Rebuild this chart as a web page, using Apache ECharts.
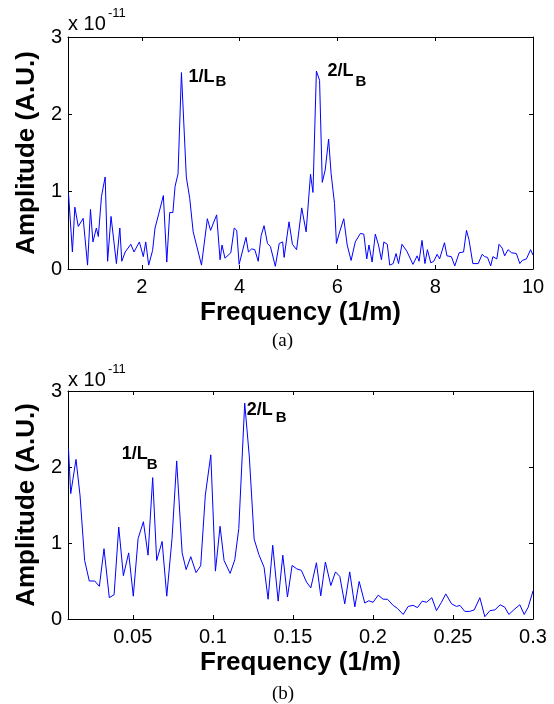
<!DOCTYPE html>
<html><head><meta charset="utf-8">
<script src="https://cdn.jsdelivr.net/npm/echarts@6/dist/echarts.min.js"></script>
<style>html,body{margin:0;padding:0;background:#fff}#c{width:554px;height:704px}</style>
</head><body><div id="c"></div>
<script>
// Panel (a): frequency (1/m) and amplitude (x 1e-11 A.U.)
const topFreq = [0.50,0.58,0.63,0.70,0.80,0.89,0.95,1.00,1.07,1.11,1.175,1.25,1.30,1.37,1.48,1.55,1.59,1.66,1.775,1.84,1.95,2.03,2.08,2.14,2.22,2.27,2.34,2.44,2.51,2.57,2.635,2.68,2.74,2.81,2.91,2.98,3.05,3.22,3.34,3.405,3.53,3.60,3.64,3.70,3.82,3.89,3.94,3.99,4.13,4.18,4.245,4.31,4.38,4.44,4.50,4.57,4.63,4.73,4.81,4.88,4.91,5.01,5.08,5.165,5.27,5.36,5.45,5.50,5.57,5.635,5.69,5.75,5.82,5.87,5.94,5.98,6.045,6.13,6.20,6.28,6.365,6.47,6.54,6.60,6.645,6.71,6.775,6.84,6.90,6.95,7.02,7.07,7.14,7.20,7.25,7.32,7.42,7.545,7.63,7.67,7.73,7.79,7.84,7.91,7.97,8.04,8.09,8.19,8.24,8.33,8.40,8.49,8.58,8.64,8.69,8.77,8.88,8.96,9.01,9.07,9.135,9.18,9.26,9.305,9.37,9.42,9.49,9.56,9.66,9.73,9.78,9.865,9.95,10.0];
const topAmp = [0.98,0.22,0.80,0.55,0.655,0.05,0.77,0.35,0.53,0.42,0.94,1.19,0.10,0.68,0.07,0.53,0.10,0.22,0.32,0.22,0.35,0.16,0.35,0.05,0.24,0.53,0.70,0.95,0.09,0.73,0.73,1.07,1.23,2.54,1.19,0.91,0.48,0.05,0.65,0.50,0.70,0.12,0.31,0.14,0.21,0.53,0.50,0.06,0.41,0.22,0.26,0.25,0.10,0.43,0.56,0.33,0.29,0.035,0.33,0.35,0.15,0.61,0.32,0.25,0.79,0.48,1.225,0.99,2.56,2.44,1.12,1.28,1.68,1.24,0.85,0.33,0.48,0.65,0.31,0.11,0.35,0.46,0.45,0.13,0.31,0.09,0.45,0.31,0.12,0.35,0.32,0.05,0.07,0.20,0.07,0.32,0.23,0.06,0.17,0.10,0.37,0.07,0.25,0.08,0.10,0.19,0.13,0.34,0.17,0.16,0.04,0.21,0.22,0.50,0.38,0.07,0.07,0.19,0.16,0.15,0.04,0.16,0.13,0.32,0.27,0.17,0.25,0.21,0.20,0.07,0.11,0.13,0.25,0.18];
// Panel (b)
const bottomFreq = [0.0098,0.0112,0.0145,0.0170,0.0199,0.0228,0.0262,0.0291,0.0320,0.0353,0.0383,0.0412,0.0441,0.0474,0.0503,0.0533,0.0566,0.0595,0.0624,0.0649,0.0683,0.0712,0.0745,0.0774,0.0808,0.0833,0.0862,0.0895,0.0924,0.0953,0.0987,0.1016,0.1045,0.1070,0.1108,0.1137,0.1162,0.1199,0.1228,0.1258,0.1287,0.1320,0.1345,0.1374,0.1408,0.1437,0.1466,0.1495,0.1524,0.1553,0.1585,0.1612,0.1647,0.1674,0.1703,0.1737,0.1766,0.1793,0.1824,0.1855,0.1887,0.1914,0.1949,0.1974,0.2001,0.2033,0.2064,0.2091,0.2126,0.2153,0.2189,0.2220,0.2251,0.2278,0.2308,0.2335,0.2368,0.2397,0.2428,0.2455,0.2491,0.2522,0.2543,0.2574,0.2605,0.2633,0.2668,0.2699,0.2731,0.2762,0.2795,0.2824,0.2849,0.2887,0.2918,0.2945,0.2970,0.3000];
const bottomAmp = [2.24,1.65,2.10,1.63,0.77,0.50,0.50,0.43,0.925,0.28,0.32,1.21,0.57,0.87,0.30,1.06,1.28,0.84,1.86,0.77,1.02,0.30,1.06,2.08,0.87,0.65,0.82,0.61,0.70,1.63,2.16,0.63,1.22,0.77,0.60,0.78,1.19,2.84,2.13,1.05,0.85,0.68,0.26,0.97,0.235,0.84,0.29,0.705,0.66,0.64,0.486,0.41,0.74,0.305,0.75,0.44,0.62,0.56,0.20,0.62,0.16,0.494,0.21,0.24,0.22,0.314,0.26,0.26,0.18,0.14,0.06,0.165,0.18,0.15,0.235,0.22,0.28,0.11,0.22,0.33,0.20,0.165,0.18,0.10,0.10,0.12,0.28,0.03,0.11,0.12,0.187,0.155,0.06,0.134,0.187,0.06,0.155,0.37];
const topTicks = [2, 4, 6, 8, 10];
const bottomTicks = [0.05, 0.1, 0.15, 0.2, 0.25, 0.3];
const ampTicks = [0, 1, 2, 3];
const topPeakFreqs = [2.81, 5.57];
const bottomPeakFreqs = [0.0624, 0.1199];
const peakTexts = ['1/L', '2/L'];

const FONT = 'Liberation Sans';
const zip = (xs, ys) => xs.map((x, i) => [x, ys[i]]);
const peakCoord = (xs, ys, f) => { const i = xs.indexOf(f); return [xs[i], ys[i]]; };

function peakMarks(xs, ys, freqs, offs) {
  const out = [];
  freqs.forEach((f, k) => {
    const c = peakCoord(xs, ys, f);
    out.push({coord: c, label: {formatter: peakTexts[k], position: offs[k][0], fontSize: 18, lineHeight: 18}});
    out.push({coord: c, label: {formatter: 'B', position: offs[k][1], fontSize: 15, lineHeight: 15}});
  });
  return out;
}

function xAx(gi, min, max, ticks, pos, show) {
  return {
    type: 'value', gridIndex: gi, min: min, max: max, position: pos,
    name: show ? 'Frequency (1/m)' : '', nameLocation: 'middle', nameGap: 31,
    nameTextStyle: {fontFamily: FONT, fontWeight: 'bold', fontSize: 26, color: '#000'},
    axisLine: {show: true, onZero: false, lineStyle: {color: '#000', width: 1}},
    axisTick: {show: true, inside: true, length: 4, customValues: ticks, lineStyle: {color: '#000'}},
    axisLabel: {show: show, customValues: ticks, fontFamily: FONT, fontSize: 20, color: '#000', margin: 8},
    splitLine: {show: false}
  };
}
function yAx(gi, pos, show) {
  return {
    type: 'value', gridIndex: gi, min: 0, max: 3, interval: 1, position: pos,
    name: show ? 'Amplitude (A.U.)' : '', nameLocation: 'middle', nameGap: 19,
    nameTextStyle: {fontFamily: FONT, fontWeight: 'bold', fontSize: 26, color: '#000'},
    axisLine: {show: true, onZero: false, lineStyle: {color: '#000', width: 1}},
    axisTick: {show: true, inside: true, length: 4, lineStyle: {color: '#000'}},
    axisLabel: {show: show, fontFamily: FONT, fontSize: 20, color: '#000', margin: 6,
      formatter: v => ampTicks.includes(v) ? String(v) : ''},
    splitLine: {show: false}
  };
}

const chart = echarts.init(document.getElementById('c'), null, {renderer: 'canvas'});
chart.setOption({
  animation: false,
  backgroundColor: '#fff',
  grid: [
    {left: 68, top: 37, width: 465, height: 232},
    {left: 68, top: 391, width: 465, height: 228}
  ],
  xAxis: [
    xAx(0, 0.49, 10, topTicks, 'bottom', true),
    xAx(0, 0.49, 10, topTicks, 'top', false),
    xAx(1, 0.0095, 0.3, bottomTicks, 'bottom', true),
    xAx(1, 0.0095, 0.3, bottomTicks, 'top', false)
  ],
  yAxis: [
    yAx(0, 'left', true), yAx(0, 'right', false),
    yAx(1, 'left', true), yAx(1, 'right', false)
  ],
  series: [
    {type: 'line', xAxisIndex: 0, yAxisIndex: 0, data: zip(topFreq, topAmp), showSymbol: false,
     lineStyle: {color: '#0000ff', width: 1}, itemStyle: {color: '#0000ff'},
     markPoint: {symbol: 'circle', symbolSize: 0, silent: true,
       label: {show: true, color: '#000', fontFamily: FONT, fontWeight: 'bold'},
       data: peakMarks(topFreq, topAmp, topPeakFreqs, [[[7, -5], [34, 2]], [[11, -9], [39, 3]]])}},
    {type: 'line', xAxisIndex: 2, yAxisIndex: 2, data: zip(bottomFreq, bottomAmp), showSymbol: false,
     lineStyle: {color: '#0000ff', width: 1}, itemStyle: {color: '#0000ff'},
     markPoint: {symbol: 'circle', symbolSize: 0, silent: true,
       label: {show: true, color: '#000', fontFamily: FONT, fontWeight: 'bold'},
       data: peakMarks(bottomFreq, bottomAmp, bottomPeakFreqs, [[[-31, -33], [-6, -20]], [[2, -2], [31, 7]]])}}
  ],
  graphic: [
    {type: 'text', left: 68, top: 14, style: {text: 'x 10', fontFamily: FONT, fontSize: 20, fill: '#000'}},
    {type: 'text', left: 108, top: 7, style: {text: '-11', fontFamily: FONT, fontSize: 13, fill: '#000'}},
    {type: 'text', left: 68, top: 370, style: {text: 'x 10', fontFamily: FONT, fontSize: 20, fill: '#000'}},
    {type: 'text', left: 108, top: 363, style: {text: '-11', fontFamily: FONT, fontSize: 13, fill: '#000'}},
    {type: 'text', left: 272, top: 332, style: {text: '(a)', fontFamily: 'Liberation Serif', fontSize: 19, fill: '#000'}},
    {type: 'text', left: 272, top: 685, style: {text: '(b)', fontFamily: 'Liberation Serif', fontSize: 19, fill: '#000'}}
  ]
});
</script></body></html>
